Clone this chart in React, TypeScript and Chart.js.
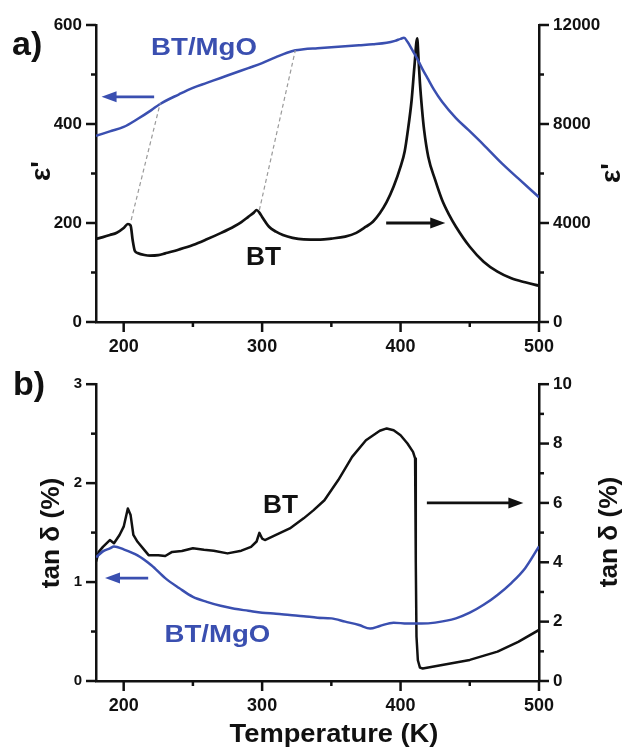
import React, { useEffect, useRef } from "react";
import { Chart, registerables } from "chart.js";
Chart.register(...registerables);

const FONT = "'Liberation Sans', Arial, sans-serif";
const BLUE = "#3a4fb0";
const BLACK = "#111111";

// ---------- Panel a: ε' ----------
const X_TICKS = [200, 300, 400, 500];
const X_MINOR = [250, 350, 450];
const A_LEFT_TICKS = [0, 200, 400, 600];
const A_LEFT_MINOR = [100, 300, 500];
const A_RIGHT_TICKS = [0, 4000, 8000, 12000];
const A_RIGHT_MINOR = [2000, 6000, 10000];

const MGO_A_T = [180, 190, 200, 210, 220, 226, 240, 250, 260, 270, 280, 290, 300, 310, 318, 324, 330, 340, 350, 360, 370, 380, 390, 396, 400, 402.5, 405, 408, 412, 416, 420, 424, 430, 440, 449, 460, 473, 485, 500];
const MGO_A_EPS = [376, 385, 394, 410, 428, 440, 460, 473, 483, 493, 503, 513, 523, 535, 544, 549, 551, 553, 555, 557, 559, 561, 564, 568, 572, 574, 566, 552, 532, 510, 490, 470, 445, 412, 388, 358, 321, 290, 252];

const BT_A_T = [180, 185, 190, 195, 200, 203, 205, 206.5, 208, 210, 215, 219, 225, 230, 240, 250, 260, 270, 280, 285, 290, 294, 296, 298, 300, 305, 310, 315, 322, 330, 342, 350, 360, 368, 375, 380, 385, 390, 395, 400, 403, 405, 408, 410, 412, 413, 414, 415.5, 417, 420, 425, 430, 435, 440, 450, 460, 470, 480, 490, 500];
const BT_A_EPS = [3353, 3430, 3515, 3608, 3798, 3960, 3900, 3300, 2880, 2790, 2707, 2680, 2700, 2774, 2930, 3110, 3340, 3590, 3870, 4040, 4250, 4420, 4525, 4420, 4245, 3850, 3650, 3515, 3400, 3340, 3330, 3370, 3450, 3600, 3850, 4050, 4390, 4850, 5470, 6275, 6900, 7630, 8970, 10315, 11460, 10600, 9650, 8600, 7760, 6680, 5740, 4930, 4340, 3850, 3040, 2436, 2032, 1765, 1604, 1467];

const GUIDE1_T = [205.4, 226.4];
const GUIDE1_EPS = [206, 442];
const GUIDE2_T = [298, 324];
const GUIDE2_EPS = [226, 549];

// ---------- Panel b: tan δ ----------
const B_LEFT_TICKS = [0, 1, 2, 3];
const B_LEFT_MINOR = [0.5, 1.5, 2.5];
const B_RIGHT_TICKS = [0, 2, 4, 6, 8, 10];
const B_RIGHT_MINOR = [1, 3, 5, 7, 9];

const MGO_B_T = [180, 185, 190, 193, 200, 210, 220, 230, 240, 250, 260, 270, 280, 290, 300, 310, 320, 330, 340, 350, 360, 370, 378, 385, 395, 405, 415, 425, 440, 450, 460, 470, 480, 490, 500];
const MGO_B_TAN = [1.25, 1.31, 1.34, 1.36, 1.33, 1.27, 1.17, 1.04, 0.94, 0.85, 0.80, 0.76, 0.73, 0.71, 0.69, 0.68, 0.667, 0.655, 0.64, 0.633, 0.60, 0.566, 0.53, 0.556, 0.59, 0.58, 0.58, 0.59, 0.633, 0.69, 0.77, 0.87, 0.99, 1.14, 1.36];

const BT_B_T = [180, 182, 185, 190, 193, 197, 200, 203, 205, 207, 210, 215, 218, 225, 230, 235, 242, 250, 258, 265, 275, 285, 292, 296, 298, 300, 302, 310, 320, 330, 337, 345, 355, 365, 375, 385, 390, 395, 400, 405, 409, 410.5, 411, 411.5, 412.5, 414, 416, 430, 450, 470, 485, 500];
const BT_B_TAN = [4.02, 4.35, 4.52, 4.75, 4.64, 4.92, 5.2, 5.81, 5.59, 4.92, 4.69, 4.41, 4.24, 4.24, 4.21, 4.35, 4.38, 4.47, 4.42, 4.39, 4.30, 4.39, 4.52, 4.70, 4.99, 4.80, 4.75, 4.92, 5.14, 5.48, 5.75, 6.09, 6.77, 7.55, 8.11, 8.43, 8.51, 8.45, 8.28, 8.0, 7.72, 7.5, 4.0, 1.5, 0.7, 0.45, 0.42, 0.54, 0.71, 0.99, 1.32, 1.72];

const pts = (xs: number[], ys: number[]) => xs.map((x, i) => ({ x, y: ys[i] }));

function drawText(ctx: CanvasRenderingContext2D, text: string, x: number, y: number, size: number, color: string, sx = 1, rot = 0, align: CanvasTextAlign = "center", baseline: CanvasTextBaseline = "alphabetic") {
  ctx.save();
  ctx.translate(x, y);
  if (rot) ctx.rotate(rot);
  ctx.scale(sx, 1);
  ctx.font = `bold ${size}px ${FONT}`;
  ctx.fillStyle = color;
  ctx.textAlign = align;
  ctx.textBaseline = baseline;
  ctx.fillText(text, 0, 0);
  ctx.restore();
}

function drawArrow(ctx: CanvasRenderingContext2D, x1: number, y1: number, x2: number, y2: number, color: string, head = 15) {
  ctx.save();
  ctx.strokeStyle = color;
  ctx.fillStyle = color;
  ctx.lineWidth = 2.8;
  const dir = Math.sign(x2 - x1);
  ctx.beginPath();
  ctx.moveTo(x1, y1);
  ctx.lineTo(x2 - dir * head * 0.8, y2);
  ctx.stroke();
  ctx.beginPath();
  ctx.moveTo(x2, y2);
  ctx.lineTo(x2 - dir * head, y2 - 5.5);
  ctx.lineTo(x2 - dir * head, y2 + 5.5);
  ctx.closePath();
  ctx.fill();
  ctx.restore();
}

type TickSpec = { id: string; pos: "left" | "right" | "bottom"; major: number[]; minor: number[] };

const tickPlugin = (specs: TickSpec[]) => ({
  id: "axisTicks",
  afterDraw(chart: any) {
    const ctx = chart.ctx as CanvasRenderingContext2D;
    ctx.save();
    ctx.strokeStyle = BLACK;
    ctx.lineWidth = 2.5;
    for (const spec of specs) {
      const scale = chart.scales[spec.id];
      const groups: [number[], number][] = [[spec.major, 10], [spec.minor, 5]];
      for (const [vals, len] of groups) {
        for (const v of vals) {
          const p = scale.getPixelForValue(v);
          ctx.beginPath();
          if (spec.pos === "bottom") {
            ctx.moveTo(p, scale.top);
            ctx.lineTo(p, scale.top + len);
          } else if (spec.pos === "left") {
            ctx.moveTo(scale.right, p);
            ctx.lineTo(scale.right - len, p);
          } else {
            ctx.moveTo(scale.left, p);
            ctx.lineTo(scale.left + len, p);
          }
          ctx.stroke();
        }
      }
    }
    ctx.restore();
  },
});

function axis(position: string, min: number, max: number, ticks: number[], size: number, fit: (s: any) => void) {
  return {
    type: "linear",
    position,
    min,
    max,
    afterBuildTicks: (s: any) => {
      s.ticks = ticks.map((v) => ({ value: v }));
    },
    afterFit: fit,
    grid: { display: false, drawTicks: false },
    border: { display: true, width: 2.5, color: BLACK },
    ticks: {
      color: BLACK,
      font: { size, weight: "bold", family: FONT },
      padding: 14,
      autoSkip: false,
      maxRotation: 0,
      callback: (v: any) => String(v),
    },
  };
}

const lineDs = (data: any[], color: string, yAxisID: string, width = 2.5, dash: number[] = [], smooth = true) => ({
  data,
  borderColor: color,
  backgroundColor: color,
  borderWidth: width,
  borderDash: dash,
  pointRadius: 0,
  tension: smooth ? 0.4 : 0,
  cubicInterpolationMode: smooth ? "monotone" : "default",
  yAxisID,
  xAxisID: "x",
  borderJoinStyle: "round",
});

export default function App() {
  const refA = useRef<HTMLCanvasElement>(null);
  const refB = useRef<HTMLCanvasElement>(null);

  useEffect(() => {
    const annA = {
      id: "annA",
      afterDraw(chart: any) {
        const ctx = chart.ctx;
        const x = chart.scales.x, yL = chart.scales.yL, yR = chart.scales.yR;
        drawArrow(ctx, x.getPixelForValue(222), yL.getPixelForValue(455), x.getPixelForValue(184), yL.getPixelForValue(455), BLUE);
        drawArrow(ctx, x.getPixelForValue(389.6), yR.getPixelForValue(4000), x.getPixelForValue(432.3), yR.getPixelForValue(4000), BLACK);
        drawText(ctx, "BT/MgO", x.getPixelForValue(258), yL.getPixelForValue(539), 24, BLUE, 1.15);
        drawText(ctx, "BT", x.getPixelForValue(301), yL.getPixelForValue(115), 25, BLACK, 1.05);
        drawText(ctx, "a)", 12, 55, 34, BLACK, 1, 0, "left");
        drawText(ctx, "ε'", 42, 171, 28, BLACK, 1, -Math.PI / 2, "center", "middle");
        drawText(ctx, "ε'", 612, 173, 28, BLACK, 1, -Math.PI / 2, "center", "middle");
      },
    };
    const annB = {
      id: "annB",
      afterDraw(chart: any) {
        const ctx = chart.ctx;
        const x = chart.scales.x, yL = chart.scales.yL, yR = chart.scales.yR;
        drawArrow(ctx, x.getPixelForValue(217.7), yL.getPixelForValue(1.04), x.getPixelForValue(186.5), yL.getPixelForValue(1.04), BLUE);
        drawArrow(ctx, x.getPixelForValue(419), yR.getPixelForValue(6), x.getPixelForValue(488.7), yR.getPixelForValue(6), BLACK);
        drawText(ctx, "BT", x.getPixelForValue(313.3), yL.getPixelForValue(1.7), 25, BLACK, 1.05);
        drawText(ctx, "BT/MgO", x.getPixelForValue(267.7), yL.getPixelForValue(0.394), 24, BLUE, 1.15);
        drawText(ctx, "b)", 13, 35, 34, BLACK, 1, 0, "left");
        drawText(ctx, "tan δ (%)", 52, 173, 25, BLACK, 1.05, -Math.PI / 2, "center", "middle");
        drawText(ctx, "tan δ (%)", 610, 172, 25, BLACK, 1.05, -Math.PI / 2, "center", "middle");
        drawText(ctx, "Temperature (K)", 334, 382, 26, BLACK, 1.05);
      },
    };

    const chartA = new Chart(refA.current!, {
      type: "line",
      data: {
        datasets: [
          lineDs(pts(GUIDE1_T, GUIDE1_EPS), "#9a9a9a", "yL", 1.2, [4, 3], false),
          lineDs(pts(GUIDE2_T, GUIDE2_EPS), "#9a9a9a", "yL", 1.2, [4, 3], false),
          lineDs(pts(MGO_A_T, MGO_A_EPS), BLUE, "yL"),
          lineDs(pts(BT_A_T, BT_A_EPS), BLACK, "yR", 2.7),
        ],
      } as any,
      options: {
        responsive: false,
        animation: false,
        events: [],
        layout: { padding: { top: 25, left: 0, right: 0, bottom: 0 } },
        plugins: { legend: { display: false }, tooltip: { enabled: false } },
        scales: {
          x: axis("bottom", 180, 500, X_TICKS, 18, (s) => { s.height = 38; }),
          yL: axis("left", 0, 600, A_LEFT_TICKS, 17, (s) => { s.width = 96; }),
          yR: axis("right", 0, 12000, A_RIGHT_TICKS, 17, (s) => { s.width = 84; }),
        } as any,
      },
      plugins: [
        tickPlugin([
          { id: "x", pos: "bottom", major: X_TICKS, minor: X_MINOR },
          { id: "yL", pos: "left", major: A_LEFT_TICKS, minor: A_LEFT_MINOR },
          { id: "yR", pos: "right", major: A_RIGHT_TICKS, minor: A_RIGHT_MINOR },
        ]),
        annA,
      ],
    });

    const chartB = new Chart(refB.current!, {
      type: "line",
      data: {
        datasets: [
          lineDs(pts(MGO_B_T, MGO_B_TAN), BLUE, "yL"),
          lineDs(pts(BT_B_T, BT_B_TAN), BLACK, "yR", 2.5, [], false),
        ],
      } as any,
      options: {
        responsive: false,
        animation: false,
        events: [],
        layout: { padding: { top: 23, left: 0, right: 0, bottom: 0 } },
        plugins: { legend: { display: false }, tooltip: { enabled: false } },
        scales: {
          x: axis("bottom", 180, 500, X_TICKS, 18, (s) => { s.height = 69; }),
          yL: axis("left", 0, 3, B_LEFT_TICKS, 15, (s) => { s.width = 96; }),
          yR: axis("right", 0, 10, B_RIGHT_TICKS, 17, (s) => { s.width = 84; }),
        } as any,
      },
      plugins: [
        tickPlugin([
          { id: "x", pos: "bottom", major: X_TICKS, minor: X_MINOR },
          { id: "yL", pos: "left", major: B_LEFT_TICKS, minor: B_LEFT_MINOR },
          { id: "yR", pos: "right", major: B_RIGHT_TICKS, minor: B_RIGHT_MINOR },
        ]),
        annB,
      ],
    });

    return () => {
      chartA.destroy();
      chartB.destroy();
    };
  }, []);

  return (
    <div style={{ position: "absolute", left: 0, top: 0, width: 623, height: 750, background: "#fff" }}>
      <canvas ref={refA} width={623} height={360} style={{ position: "absolute", left: 0, top: 0, display: "block" }} />
      <canvas ref={refB} width={623} height={390} style={{ position: "absolute", left: 0, top: 360, display: "block" }} />
    </div>
  );
}
